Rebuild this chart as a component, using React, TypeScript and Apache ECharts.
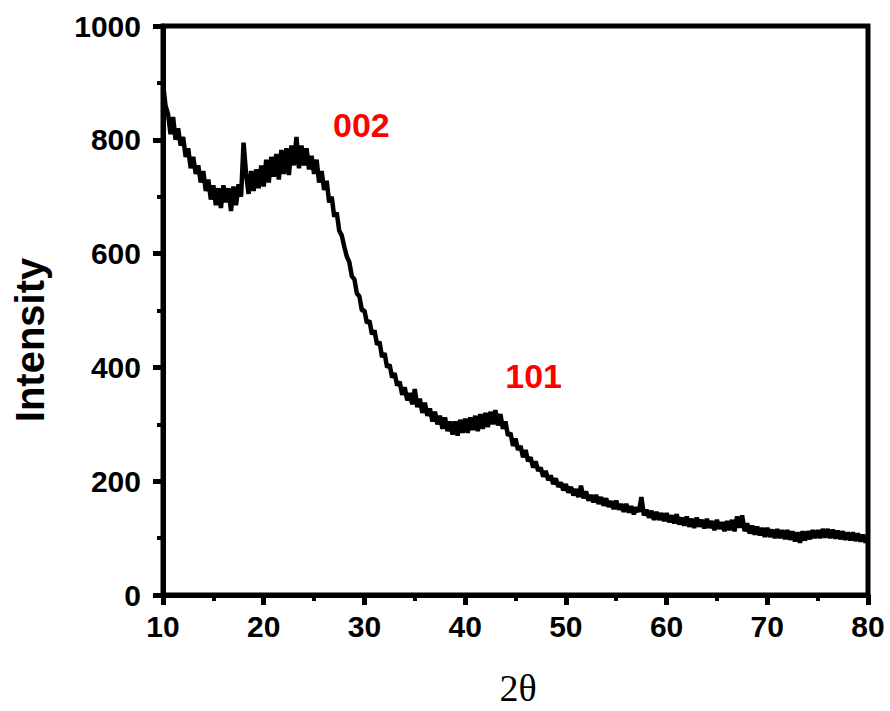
import React, { useEffect, useRef } from "react";
import * as echarts from "echarts";

const twoTheta: number[] = [
  10, 10.25, 10.5, 10.75, 11, 11.25, 11.5, 11.75, 12, 12.25, 12.5, 12.75, 13, 13.25, 13.5, 13.75,
  14, 14.25, 14.5, 14.75, 15, 15.25, 15.5, 15.75, 16, 16.25, 16.5, 16.75, 17, 17.25, 17.5, 17.75,
  18, 18.25, 18.5, 18.75, 19, 19.25, 19.5, 19.75, 20, 20.25, 20.5, 20.75, 21, 21.25, 21.5, 21.75,
  22, 22.25, 22.5, 22.75, 23, 23.25, 23.5, 23.75, 24, 24.25, 24.5, 24.75, 25, 25.25, 25.5, 25.75,
  26, 26.25, 26.5, 26.75, 27, 27.25, 27.5, 27.75, 28, 28.25, 28.5, 28.75, 29, 29.25, 29.5, 29.75,
  30, 30.25, 30.5, 30.75, 31, 31.25, 31.5, 31.75, 32, 32.25, 32.5, 32.75, 33, 33.25, 33.5, 33.75,
  34, 34.25, 34.5, 34.75, 35, 35.25, 35.5, 35.75, 36, 36.25, 36.5, 36.75, 37, 37.25, 37.5, 37.75,
  38, 38.25, 38.5, 38.75, 39, 39.25, 39.5, 39.75, 40, 40.25, 40.5, 40.75, 41, 41.25, 41.5, 41.75,
  42, 42.25, 42.5, 42.75, 43, 43.25, 43.5, 43.75, 44, 44.25, 44.5, 44.75, 45, 45.25, 45.5, 45.75,
  46, 46.25, 46.5, 46.75, 47, 47.25, 47.5, 47.75, 48, 48.25, 48.5, 48.75, 49, 49.25, 49.5, 49.75,
  50, 50.25, 50.5, 50.75, 51, 51.25, 51.5, 51.75, 52, 52.25, 52.5, 52.75, 53, 53.25, 53.5, 53.75,
  54, 54.25, 54.5, 54.75, 55, 55.25, 55.5, 55.75, 56, 56.25, 56.5, 56.75, 57, 57.25, 57.5, 57.75,
  58, 58.25, 58.5, 58.75, 59, 59.25, 59.5, 59.75, 60, 60.25, 60.5, 60.75, 61, 61.25, 61.5, 61.75,
  62, 62.25, 62.5, 62.75, 63, 63.25, 63.5, 63.75, 64, 64.25, 64.5, 64.75, 65, 65.25, 65.5, 65.75,
  66, 66.25, 66.5, 66.75, 67, 67.25, 67.5, 67.75, 68, 68.25, 68.5, 68.75, 69, 69.25, 69.5, 69.75,
  70, 70.25, 70.5, 70.75, 71, 71.25, 71.5, 71.75, 72, 72.25, 72.5, 72.75, 73, 73.25, 73.5, 73.75,
  74, 74.25, 74.5, 74.75, 75, 75.25, 75.5, 75.75, 76, 76.25, 76.5, 76.75, 77, 77.25, 77.5, 77.75,
  78, 78.25, 78.5, 78.75, 79, 79.25, 79.5, 79.75, 80,
];

const intensity: number[] = [
  900, 860, 845, 810, 840, 800, 820, 790, 805, 770, 785, 750, 770, 740, 755, 725,
  745, 710, 730, 695, 720, 685, 715, 680, 720, 690, 715, 675, 718, 685, 722, 700,
  795, 740, 705, 745, 710, 748, 715, 755, 718, 765, 725, 770, 735, 775, 730, 782,
  740, 785, 738, 790, 755, 805, 750, 790, 755, 785, 748, 772, 740, 765, 725, 745,
  712, 728, 690, 700, 665, 672, 640, 632, 612, 595, 585, 560, 555, 530, 525, 500,
  500, 478, 482, 458, 465, 440, 445, 418, 425, 400, 405, 382, 390, 368, 375, 352,
  365, 342, 355, 335, 362, 330, 345, 320, 338, 315, 328, 305, 322, 300, 315, 292,
  312, 288, 305, 282, 305, 280, 308, 285, 310, 285, 312, 290, 315, 288, 318, 292,
  320, 295, 322, 300, 325, 298, 318, 292, 305, 280, 285, 262, 275, 255, 262, 242,
  255, 235, 242, 224, 235, 218, 224, 208, 218, 202, 210, 195, 205, 190, 198, 184,
  195, 180, 190, 175, 186, 172, 192, 170, 182, 166, 176, 163, 176, 160, 172, 157,
  170, 155, 165, 151, 166, 150, 160, 146, 160, 145, 156, 142, 154, 146, 172, 140,
  150, 136, 148, 132, 146, 132, 144, 130, 144, 128, 140, 126, 142, 124, 136, 122,
  138, 120, 134, 118, 136, 120, 132, 117, 134, 118, 130, 114, 132, 116, 128, 112,
  130, 114, 132, 112, 138, 118, 140, 112, 126, 108, 122, 106, 120, 105, 118, 102,
  118, 102, 115, 100, 116, 100, 114, 98, 114, 97, 112, 94, 110, 92, 112, 96,
  112, 98, 114, 100, 114, 100, 116, 101, 116, 100, 115, 99, 113, 98, 112, 97,
  110, 96, 110, 95, 108, 94, 106, 92, 104,
];

const yTicks = { min: 0, max: 1000, interval: 200 };
const xTicks = { min: 10, max: 80, interval: 10 };

const peakLabels: { name: string; coord: [number, number] }[] = [
  { name: "002", coord: [29.7, 826] },
  { name: "101", coord: [46.8, 385] },
];

const sans = '"Liberation Sans", Arial, Helvetica, sans-serif';
const serif = '"Liberation Serif", "Times New Roman", Times, serif';

export default function App() {
  const ref = useRef<HTMLDivElement>(null);

  useEffect(() => {
    document.body.style.margin = "0";
    if (!ref.current) return;
    const chart = echarts.init(ref.current, undefined, { renderer: "svg" });
    const data = twoTheta.map((x, i) => [x, intensity[i]]);

    chart.setOption({
      animation: false,
      backgroundColor: "#ffffff",
      grid: {
        left: 163,
        right: 22,
        top: 26,
        bottom: 116,
        show: true,
        borderColor: "#000",
        borderWidth: 5,
        backgroundColor: "transparent",
      },
      xAxis: {
        type: "value",
        min: xTicks.min,
        max: xTicks.max,
        interval: xTicks.interval,
        axisLine: { show: true, onZero: false, lineStyle: { color: "#000", width: 5 } },
        axisTick: { show: true, inside: false, length: 10, lineStyle: { color: "#000", width: 5 } },
        minorTick: { show: true, splitNumber: 2, length: 6, lineStyle: { color: "#000", width: 4 } },
        splitLine: { show: false },
        axisLabel: {
          color: "#000",
          fontSize: 30,
          fontWeight: "bold",
          fontFamily: sans,
          margin: 16,
          formatter: (v: number) => String(v),
        },
      },
      yAxis: {
        type: "value",
        min: yTicks.min,
        max: yTicks.max,
        interval: yTicks.interval,
        axisLine: { show: true, lineStyle: { color: "#000", width: 5 } },
        axisTick: { show: true, inside: false, length: 10, lineStyle: { color: "#000", width: 5 } },
        minorTick: { show: true, splitNumber: 2, length: 6, lineStyle: { color: "#000", width: 4 } },
        splitLine: { show: false },
        axisLabel: {
          color: "#000",
          fontSize: 30,
          fontWeight: "bold",
          fontFamily: sans,
          margin: 22,
          formatter: (v: number) => String(v),
        },
      },
      series: [
        {
          type: "line",
          data,
          showSymbol: false,
          symbol: "none",
          lineStyle: { color: "#000", width: 4.5 },
          z: 1,
          markPoint: {
            symbol: "circle",
            symbolSize: 1,
            itemStyle: { color: "transparent" },
            label: {
              show: true,
              position: "inside",
              color: "#ff0000",
              fontSize: 34,
              fontWeight: "bold",
              fontFamily: sans,
              formatter: (p: any) => p.name,
            },
            data: peakLabels.map((p) => ({ name: p.name, coord: p.coord })),
          },
        },
      ],
      graphic: [
        {
          type: "text",
          x: 30,
          y: 340,
          rotation: Math.PI / 2,
          style: {
            text: "Intensity",
            fill: "#000",
            font: `bold 40px ${sans}`,
            textAlign: "center",
            textVerticalAlign: "middle",
          },
        },
        {
          type: "text",
          x: 518,
          y: 688,
          style: {
            text: "2θ",
            fill: "#000",
            font: `38px ${serif}`,
            textAlign: "center",
            textVerticalAlign: "middle",
          },
        },
      ],
    });

    return () => chart.dispose();
  }, []);

  return <div ref={ref} style={{ width: 890, height: 711 }} />;
}
